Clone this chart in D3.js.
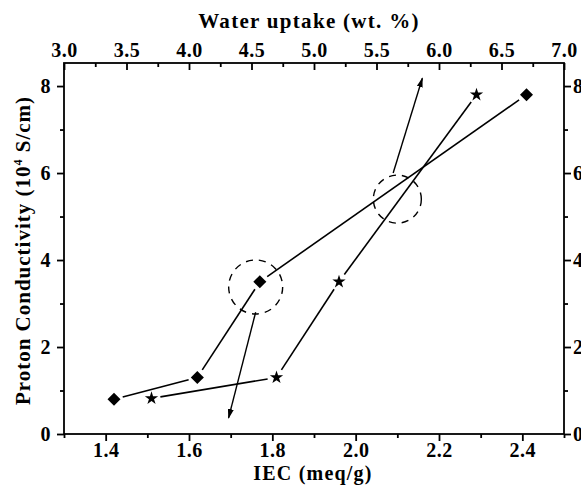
<!DOCTYPE html>
<html>
<head>
<meta charset="utf-8">
<script src="https://cdn.jsdelivr.net/npm/d3@7/dist/d3.min.js"></script>
<style>
  body { margin: 0; background: #fff; }
</style>
</head>
<body>
<svg id="chart" width="581" height="489"></svg>
<script>
// diamonds: conductivity vs IEC (bottom axis)
const iecValues = [1.42, 1.62, 1.77, 2.41];
const iecConductivity = [0.8, 1.3, 3.5, 7.8];

// stars: conductivity vs water uptake (top axis)
const waterUptake = [3.7, 4.7, 5.2, 6.3];
const waterConductivity = [0.82, 1.3, 3.5, 7.8];

const iecTicks = [1.4, 1.6, 1.8, 2.0, 2.2, 2.4];
const iecMinor = [1.3, 1.5, 1.7, 1.9, 2.1, 2.3, 2.5];
const waterTicks = [3.0, 3.5, 4.0, 4.5, 5.0, 5.5, 6.0, 6.5, 7.0];
const waterMinor = [3.25, 3.75, 4.25, 4.75, 5.25, 5.75, 6.25, 6.75];
const condTicks = [0, 2, 4, 6, 8];
const condMinor = [1, 3, 5, 7];

// dashed circles (centre in IEC / conductivity units) and arrows [x1, y1, x2, y2]
const circleCentres = [[1.76, 3.38], [2.10, 5.40]];
const arrows = [[1.76, 2.8, 1.695, 0.37], [2.09, 6.0, 2.16, 8.18]];

const FONT = "Liberation Serif";
const margin = {top: 63, right: 17, bottom: 55, left: 64};
const width = 581 - margin.left - margin.right;
const height = 489 - margin.top - margin.bottom;

const svg = d3.select("#chart");
const g = svg.append("g").attr("transform", `translate(${margin.left},${margin.top})`);

const x = d3.scaleLinear().domain([1.3, 2.5]).range([0, width]);
const xTop = d3.scaleLinear().domain([3.0, 7.0]).range([0, width]);
const y = d3.scaleLinear().domain([0, 8.53]).range([height, 0]);

function serif(sel, size, spacing) {
  sel.attr("font-family", FONT)
    .style("font-family", FONT)
    .style("font-weight", "bold")
    .style("font-size", size + "px")
    .style("letter-spacing", (spacing || 0) + "px");
}

function styleAxis(sel) {
  sel.select(".domain").remove();
  sel.selectAll("line").attr("stroke", "#000").attr("stroke-width", 1.8);
  sel.selectAll("text").attr("fill", "#000").call(serif, 20, 0.5);
}

// bottom
g.append("g").attr("transform", `translate(0,${height})`)
  .call(d3.axisBottom(x).tickValues(iecTicks).tickSize(7).tickPadding(2).tickFormat(d3.format(".1f")))
  .call(styleAxis);
g.append("g").attr("transform", `translate(0,${height})`)
  .call(d3.axisBottom(x).tickValues(iecMinor).tickSize(4).tickFormat(""))
  .call(styleAxis);

// top (inward ticks)
g.append("g")
  .call(d3.axisTop(xTop).tickValues(waterTicks).tickSize(-7).tickPadding(6).tickFormat(d3.format(".1f")))
  .call(styleAxis);
g.append("g")
  .call(d3.axisTop(xTop).tickValues(waterMinor).tickSize(-4).tickFormat(""))
  .call(styleAxis);

// left
g.append("g")
  .call(d3.axisLeft(y).tickValues(condTicks).tickSize(7).tickPadding(6).tickFormat(d3.format("d")))
  .call(styleAxis);
g.append("g")
  .call(d3.axisLeft(y).tickValues(condMinor).tickSize(4).tickFormat(""))
  .call(styleAxis);

// right
g.append("g").attr("transform", `translate(${width},0)`)
  .call(d3.axisRight(y).tickValues(condTicks).tickSize(7).tickPadding(2).tickFormat(d3.format("d")))
  .call(styleAxis);
g.append("g").attr("transform", `translate(${width},0)`)
  .call(d3.axisRight(y).tickValues(condMinor).tickSize(4).tickFormat(""))
  .call(styleAxis);

// frame
g.append("rect")
  .attr("width", width).attr("height", height)
  .attr("fill", "none").attr("stroke", "#000").attr("stroke-width", 1.8);

// segments with a gap around each symbol
function gappedSegments(pts, gap) {
  const segs = [];
  for (let i = 0; i < pts.length - 1; i++) {
    const [x1, y1] = pts[i], [x2, y2] = pts[i + 1];
    const len = Math.hypot(x2 - x1, y2 - y1);
    const ux = (x2 - x1) / len, uy = (y2 - y1) / len;
    segs.push([x1 + ux * gap, y1 + uy * gap, x2 - ux * gap, y2 - uy * gap]);
  }
  return segs;
}

function drawSeries(pts, symbol, rot) {
  g.append("g").selectAll("line")
    .data(gappedSegments(pts, 9))
    .join("line")
    .attr("x1", d => d[0]).attr("y1", d => d[1])
    .attr("x2", d => d[2]).attr("y2", d => d[3])
    .attr("stroke", "#000").attr("stroke-width", 1.6);
  g.append("g").selectAll("path")
    .data(pts)
    .join("path")
    .attr("d", symbol)
    .attr("transform", d => `translate(${d[0]},${d[1]}) rotate(${rot})`)
    .attr("fill", "#000");
}

const diamondPts = iecValues.map((v, i) => [x(v), y(iecConductivity[i])]);
const starPts = waterUptake.map((v, i) => [xTop(v), y(waterConductivity[i])]);

drawSeries(diamondPts, d3.symbol().type(d3.symbolSquare).size(85)(), 45);
drawSeries(starPts, d3.symbol().type(d3.symbolStar).size(55)(), 0);

// dashed circles
g.append("g").selectAll("circle")
  .data(circleCentres)
  .join("circle")
  .attr("cx", d => x(d[0])).attr("cy", d => y(d[1]))
  .attr("r", (d, i) => i === 0 ? 27 : 24)
  .attr("fill", "none").attr("stroke", "#000").attr("stroke-width", 1.4)
  .attr("stroke-dasharray", "7,6");

// arrows
svg.append("defs").append("marker")
  .attr("id", "head").attr("viewBox", "0 0 10 6")
  .attr("refX", 9).attr("refY", 3)
  .attr("markerWidth", 10).attr("markerHeight", 6)
  .attr("markerUnits", "userSpaceOnUse")
  .attr("orient", "auto")
  .append("path").attr("d", "M0,0 L10,3 L0,6 Z").attr("fill", "#000");

g.append("g").selectAll("line")
  .data(arrows)
  .join("line")
  .attr("x1", d => x(d[0])).attr("y1", d => y(d[1]))
  .attr("x2", d => x(d[2])).attr("y2", d => y(d[3]))
  .attr("stroke", "#000").attr("stroke-width", 1.4)
  .attr("marker-end", "url(#head)");

// titles
svg.append("text")
  .attr("x", 309).attr("y", 28)
  .attr("text-anchor", "middle")
  .call(serif, 21, 1.3)
  .text("Water uptake (wt. %)");

svg.append("text")
  .attr("x", 313).attr("y", 480)
  .attr("text-anchor", "middle")
  .call(serif, 20, 1.2)
  .text("IEC (meq/g)");

const yTitle = svg.append("text")
  .attr("transform", `translate(30,${margin.top + height / 2 + 2}) rotate(-90)`)
  .attr("text-anchor", "middle")
  .call(serif, 21, 1);
yTitle.append("tspan").text("Proton Conductivity (10");
yTitle.append("tspan").attr("dy", -8).style("font-size", "12px").text("4");
yTitle.append("tspan").attr("dy", 8).text(" S/cm)");
</script>
</body>
</html>
